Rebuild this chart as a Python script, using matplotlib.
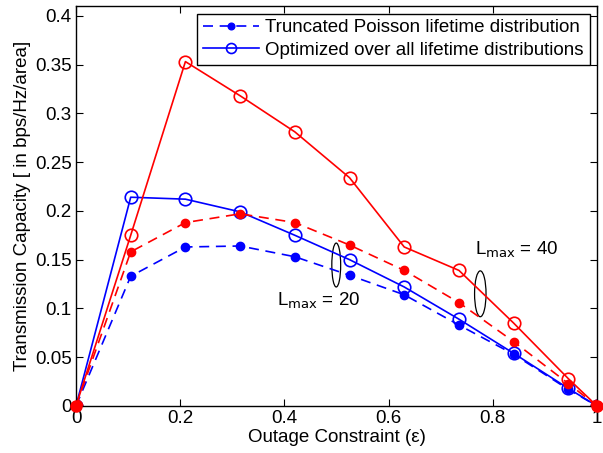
import matplotlib
matplotlib.use("Agg")
import matplotlib.pyplot as plt
from matplotlib.patches import Ellipse

plt.rcParams['font.family'] = ['Liberation Sans', 'DejaVu Sans']

eps = [0, 0.105, 0.21, 0.315, 0.42, 0.525, 0.63, 0.735, 0.84, 0.945, 1.0]
opt40 = [0, 0.175, 0.353, 0.318, 0.281, 0.234, 0.163, 0.139, 0.085, 0.028, 0]
opt20 = [0, 0.214, 0.212, 0.199, 0.175, 0.150, 0.122, 0.089, 0.054, 0.018, 0]
poi40 = [0, 0.158, 0.188, 0.197, 0.188, 0.165, 0.139, 0.106, 0.066, 0.023, 0]
poi20 = [0, 0.133, 0.163, 0.164, 0.153, 0.134, 0.114, 0.083, 0.053, 0.017, 0]

FS = 13.5
fig = plt.figure(figsize=(6.03, 4.53), dpi=100)
ax = fig.add_axes([76/603, 1-406/453, 521/603, 400/453])

lw = 1.2
l1, = ax.plot(eps, poi20, '--', color='blue', marker='o', markersize=6, lw=lw,
              markerfacecolor='blue', markeredgecolor='blue', dashes=(6, 4))
l2, = ax.plot(eps, opt20, '-', color='blue', marker='o', markersize=9, lw=lw,
              markerfacecolor='none', markeredgecolor='blue', markeredgewidth=1.2)
ax.plot(eps, poi40, '--', color='red', marker='o', markersize=6, lw=lw,
        markerfacecolor='red', markeredgecolor='red', dashes=(6, 4))
ax.plot(eps, opt40, '-', color='red', marker='o', markersize=9, lw=lw,
        markerfacecolor='none', markeredgecolor='red', markeredgewidth=1.2)
# endpoint dots
ax.plot([0, 1], [0, 0], 'o', color='red', markersize=8, clip_on=False, zorder=5)

ax.set_xlim(0, 1)
ax.set_ylim(0, 0.41)
ax.set_xticks([0, 0.2, 0.4, 0.6, 0.8, 1])
ax.set_xticklabels(['0', '0.2', '0.4', '0.6', '0.8', '1'])
ax.set_yticks([0, 0.05, 0.1, 0.15, 0.2, 0.25, 0.3, 0.35, 0.4])
ax.set_yticklabels(['0', '0.05', '0.1', '0.15', '0.2', '0.25', '0.3', '0.35', '0.4'])
ax.tick_params(direction='in', top=True, right=True, labelsize=FS, length=5, pad=3)
for s in ax.spines.values():
    s.set_linewidth(1.0)

ax.set_xlabel('Outage Constraint (ε)', fontsize=FS, labelpad=1)
ax.set_ylabel('Transmission Capacity [ in bps/Hz/area]', fontsize=FS, labelpad=3)

leg = ax.legend([l1, l2], ['Truncated Poisson lifetime distribution',
                           'Optimized over all lifetime distributions'],
                loc='upper right', fontsize=FS, fancybox=False, framealpha=1,
                edgecolor='black', borderpad=0.3, handlelength=3.0,
                handletextpad=0.35, labelspacing=0.3, borderaxespad=0.4,
                markerscale=0.8)
leg.get_frame().set_linewidth(1.0)

ax.add_patch(Ellipse((0.4995, 0.1445), 0.017, 0.045, fill=False, edgecolor='black', lw=0.9))
ax.add_patch(Ellipse((0.776, 0.115), 0.022, 0.047, fill=False, edgecolor='black', lw=0.9))
ax.text(0.385, 0.108, r'L$_{\mathrm{max}}$ = 20', fontsize=FS, ha='left', va='center')
ax.text(0.765, 0.160, r'L$_{\mathrm{max}}$ = 40', fontsize=FS, ha='left', va='center')

fig.savefig('out.png', dpi=100)
